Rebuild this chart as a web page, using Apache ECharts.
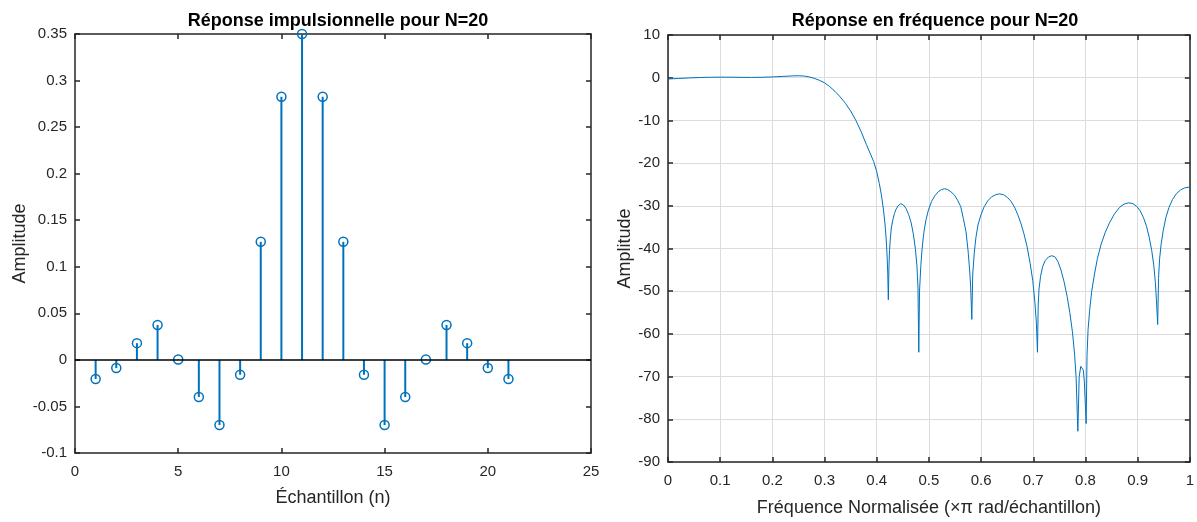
<!DOCTYPE html>
<html>
<head>
<meta charset="utf-8">
<script src="https://cdn.jsdelivr.net/npm/echarts@6/dist/echarts.min.js"></script>
<style>
html,body{margin:0;padding:0;background:#fff;}
#c{width:1197px;height:522px;}
</style>
</head>
<body>
<div id="c"></div>
<script>
// ---- Data ----
const sampleIndex = [1,2,3,4,5,6,7,8,9,10,11,12,13,14,15,16,17,18,19,20,21];
const impulseValues = [-0.0205,-0.0088,0.0180,0.0375,0.0005,-0.0398,-0.0700,-0.0160,0.1268,0.2826,0.3500,0.2826,0.1268,-0.0160,-0.0700,-0.0398,0.0005,0.0375,0.0180,-0.0088,-0.0205];

const freqNorm = [
  0.000,0.020,0.040,0.060,0.080,0.100,0.120,0.140,0.160,0.180,0.200,0.220,0.240,0.250,0.260,0.270,0.280,0.290,0.300,0.310,0.320,0.330,0.340,0.350,0.360,0.370,0.380,0.394,0.400,0.405,0.409,0.413,0.416,0.418,0.420,0.4212,0.4222,
  0.4235,0.4245,0.426,0.428,0.431,0.434,0.437,0.441,0.446,0.451,0.456,0.461,0.466,0.470,0.474,0.477,0.479,0.4806,
  0.482,0.4845,0.487,0.490,0.494,0.499,0.505,0.511,0.518,0.524,0.530,0.536,0.542,0.549,0.555,0.561,0.566,0.571,0.575,0.578,0.580,0.5822,
  0.584,0.587,0.590,0.594,0.600,0.606,0.613,0.620,0.628,0.635,0.643,0.650,0.657,0.664,0.670,0.676,0.682,0.688,0.694,0.699,0.703,0.706,0.708,
  0.7095,0.711,0.714,0.718,0.723,0.729,0.735,0.741,0.747,0.753,0.759,0.765,0.770,0.775,0.779,0.782,0.7854,
  0.788,0.791,0.7937,0.796,0.798,0.8013,
  0.803,0.805,0.808,0.812,0.817,0.823,0.830,0.838,0.846,0.855,0.865,0.874,0.883,0.891,0.898,0.905,0.911,0.917,0.922,0.927,0.931,0.934,0.936,0.9384,
  0.940,0.942,0.945,0.949,0.954,0.960,0.967,0.974,0.982,0.990,1.000
];
const magnitudeDb = [
  -0.30,-0.18,-0.06,0.04,0.10,0.13,0.12,0.08,0.07,0.10,0.18,0.30,0.43,0.46,0.40,0.20,-0.15,-0.60,-1.20,-2.10,-3.20,-4.50,-6.00,-7.80,-10.0,-12.6,-15.6,-19.6,-22.0,-24.8,-27.5,-31.0,-34.5,-37.5,-42.0,-46.0,-52.0,
  -44.0,-40.5,-37.8,-35.2,-33.2,-31.8,-30.8,-30.0,-29.5,-29.8,-30.6,-32.0,-34.0,-36.5,-40.0,-44.0,-49.0,-64.3,
  -50.0,-44.0,-40.0,-36.5,-33.5,-31.0,-29.0,-27.7,-26.7,-26.2,-26.0,-26.2,-26.7,-27.5,-28.7,-30.2,-33.0,-36.0,-40.5,-45.0,-49.0,-56.6,
  -46.0,-40.9,-37.5,-34.5,-32.0,-30.2,-28.8,-27.9,-27.4,-27.2,-27.4,-28.0,-28.9,-30.3,-32.0,-34.0,-36.5,-39.5,-43.5,-47.5,-52.5,-57.5,-64.3,
  -53.0,-49.5,-46.5,-44.2,-42.8,-42.0,-41.7,-41.9,-43.0,-45.0,-47.8,-51.3,-55.0,-59.5,-64.5,-70.0,-82.8,
  -70.0,-67.6,-67.2,-68.5,-71.5,-81.0,
  -65.0,-59.0,-54.5,-50.0,-46.2,-42.3,-39.0,-36.2,-34.0,-32.0,-30.4,-29.6,-29.3,-29.5,-30.1,-31.2,-32.7,-34.8,-37.3,-40.5,-44.0,-48.0,-52.0,-57.8,
  -47.0,-42.5,-39.0,-35.8,-32.8,-30.4,-28.5,-27.2,-26.3,-25.8,-25.6
];

const leftXTicks = {min:0, max:25, step:5};
const leftYTicks = {min:-0.1, max:0.35, step:0.05};
const rightXTicks = {min:0, max:1, step:0.1};
const rightYTicks = {min:-90, max:10, step:10};

// ---- Chart ----
const BLUE = '#0072BD';
const AX = '#262626';
const FONT = 'Liberation Sans, Arial, Helvetica, sans-serif';
const chart = echarts.init(document.getElementById('c'), null, {renderer:'canvas'});

function fmt(v){ return String(+(+v).toFixed(3)); }

function boxAxis(gridIndex, pos, t, opts){
  const isMain = (pos === 'bottom' || pos === 'left');
  const isX = (pos === 'bottom' || pos === 'top');
  return Object.assign({
    gridIndex: gridIndex, position: pos, type:'value',
    min: t.min, max: t.max, interval: t.step,
    axisLine:{show:true, onZero:false, lineStyle:{color:AX, width:1.5}},
    axisTick:{show:true, inside:true, length:5, lineStyle:{color:AX, width:1.5}},
    axisLabel:{show:isMain, color:AX, fontSize:15, fontFamily:FONT, formatter:fmt, margin:isX?11:8},
    splitLine:{show:false},
    nameTextStyle:{color:AX, fontSize:18, fontFamily:FONT}
  }, opts||{});
}

const stemData = sampleIndex.map((n,i)=>[n, impulseValues[i]]);
const freqData = freqNorm.map((f,i)=>[f, magnitudeDb[i]]);
const gridLine = {show:true, lineStyle:{color:'#dcdcdc', width:1}};

chart.setOption({
  animation:false,
  backgroundColor:'#fff',
  title:[
    {text:'Réponse impulsionnelle pour N=20', left:333, top:7, textAlign:'center',
     textStyle:{color:'#000', fontSize:18, fontWeight:'bold', fontFamily:FONT}},
    {text:'Réponse en fréquence pour N=20', left:930, top:7, textAlign:'center',
     textStyle:{color:'#000', fontSize:18, fontWeight:'bold', fontFamily:FONT}}
  ],
  grid:[
    {left:75, top:34, width:516, height:419},
    {left:668, top:35, width:525, height:430}
  ],
  xAxis:[
    boxAxis(0,'bottom',leftXTicks,{name:'Échantillon (n)', nameLocation:'middle', nameGap:36}),
    boxAxis(0,'top',leftXTicks),
    boxAxis(1,'bottom',rightXTicks,{name:'Fréquence Normalisée (×π rad/échantillon)', nameLocation:'middle', nameGap:37, splitLine:gridLine}),
    boxAxis(1,'top',rightXTicks)
  ],
  yAxis:[
    boxAxis(0,'left',leftYTicks,{name:'Amplitude', nameLocation:'middle', nameGap:46}),
    boxAxis(0,'right',leftYTicks),
    boxAxis(1,'left',rightYTicks,{name:'Amplitude', nameLocation:'middle', nameGap:34, splitLine:gridLine}),
    boxAxis(1,'right',rightYTicks)
  ],
  series:[
    {
      type:'custom', xAxisIndex:0, yAxisIndex:0, data:stemData, z:3,
      renderItem:function(params, api){
        const x = api.value(0), y = api.value(1);
        const top = api.coord([x,y]);
        const base = api.coord([x,0]);
        return {type:'group', children:[
          {type:'line', shape:{x1:base[0],y1:base[1],x2:top[0],y2:top[1]}, style:{stroke:BLUE, lineWidth:2}},
          {type:'circle', shape:{cx:top[0], cy:top[1], r:4.5}, style:{fill:null, stroke:BLUE, lineWidth:1.5}}
        ]};
      },
      markLine:{silent:true, symbol:['none','none'], label:{show:false},
        lineStyle:{color:'#000', width:1.5, type:'solid'}, data:[{yAxis:0}]}
    },
    {
      type:'line', xAxisIndex:2, yAxisIndex:2, data:freqData, showSymbol:false,
      lineStyle:{color:BLUE, width:1}, itemStyle:{color:BLUE}, z:3, clip:true
    }
  ]
});
</script>
</body>
</html>
